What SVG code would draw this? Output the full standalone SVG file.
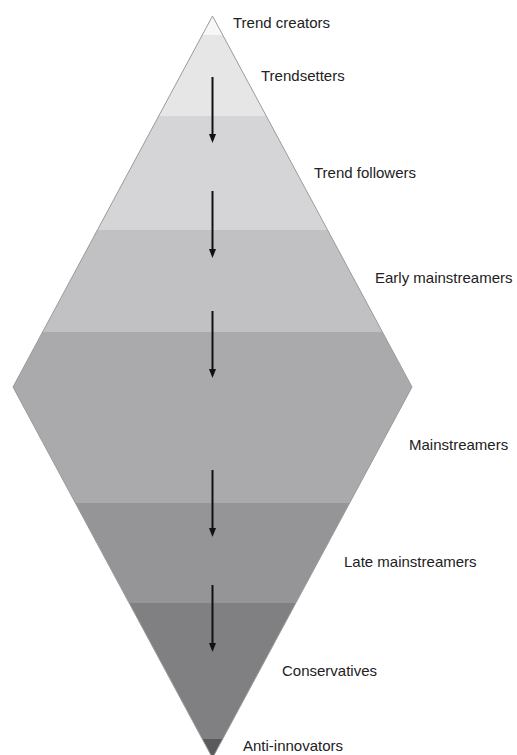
<svg xmlns="http://www.w3.org/2000/svg" width="517" height="755" viewBox="0 0 517 755">
  <style>
    .lbl { font-family: "Liberation Sans", Arial, sans-serif; font-size: 15px; fill: #222; }
  </style>
  <defs>
    <clipPath id="dia">
      <polygon points="212.5,16 412,387 212.5,758 13,387"/>
    </clipPath>
  </defs>
  <rect width="517" height="755" fill="#ffffff"/>
  <g id="bands" clip-path="url(#dia)">
    <rect id="band-creators" x="0" y="0" width="517" height="35" fill="#f7f7f7"/>
    <rect id="band-trendsetters" x="0" y="35" width="517" height="81" fill="#e6e6e6"/>
    <rect id="band-followers" x="0" y="116" width="517" height="114" fill="#d5d5d7"/>
    <rect id="band-early" x="0" y="230" width="517" height="102" fill="#c1c1c3"/>
    <rect id="band-mainstream" x="0" y="332" width="517" height="171" fill="#aaaaac"/>
    <rect id="band-late" x="0" y="503" width="517" height="100" fill="#959597"/>
    <rect id="band-conservatives" x="0" y="603" width="517" height="136" fill="#808082"/>
    <rect id="band-anti" x="0" y="739" width="517" height="30" fill="#5a5a5c"/>
  </g>
  <polygon id="diamond-outline" points="212.5,16 412,387 212.5,758 13,387" fill="none" stroke="#9a9a9a" stroke-width="1"/>
  <g id="connectors">
    <g stroke="#111" stroke-width="2">
      <line x1="212.5" y1="77" x2="212.5" y2="135"/>
      <line x1="212.5" y1="191" x2="212.5" y2="250"/>
      <line x1="212.5" y1="311" x2="212.5" y2="370"/>
      <line x1="212.5" y1="470" x2="212.5" y2="529"/>
      <line x1="212.5" y1="585" x2="212.5" y2="644"/>
    </g>
    <g fill="#111">
      <polygon points="209,134 216,134 212.5,143"/>
      <polygon points="209,249 216,249 212.5,258"/>
      <polygon points="209,369 216,369 212.5,378"/>
      <polygon points="209,528 216,528 212.5,537"/>
      <polygon points="209,643 216,643 212.5,652"/>
    </g>
  </g>
  <g id="labels">
    <g id="n-creators"><text class="lbl" x="233" y="28">Trend creators</text></g>
    <g id="n-trendsetters"><text class="lbl" x="261" y="81">Trendsetters</text></g>
    <g id="n-followers"><text class="lbl" x="314" y="177.5">Trend followers</text></g>
    <g id="n-early"><text class="lbl" x="375" y="283">Early mainstreamers</text></g>
    <g id="n-mainstream"><text class="lbl" x="409" y="450">Mainstreamers</text></g>
    <g id="n-late"><text class="lbl" x="344" y="567">Late mainstreamers</text></g>
    <g id="n-conservatives"><text class="lbl" x="282" y="675.5">Conservatives</text></g>
    <g id="n-anti"><text class="lbl" x="243" y="751">Anti-innovators</text></g>
  </g>
</svg>
